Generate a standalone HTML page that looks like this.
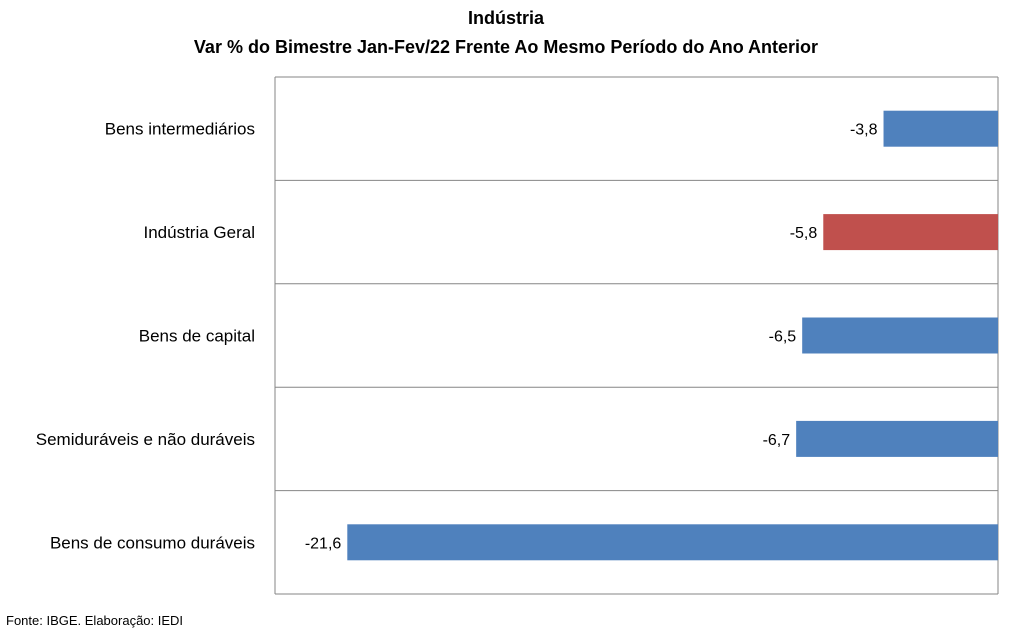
<!DOCTYPE html>
<html><head><meta charset="utf-8"><style>
body{margin:0;background:#fff;font-family:"Liberation Sans",sans-serif;}
svg text{font-family:"Liberation Sans",sans-serif;}
</style></head><body>
<svg id="chart" width="1013" height="632">
<text x="506" y="24" text-anchor="middle" font-size="18" font-weight="bold">Indústria</text>
<text x="506" y="53" text-anchor="middle" font-size="18" font-weight="bold">Var % do Bimestre Jan-Fev/22 Frente Ao Mesmo Período do Ano Anterior</text>
<g id="plot"></g>
<text x="6" y="625" font-size="13">Fonte: IBGE. Elaboração: IEDI</text>
</svg>
<script>
const categories=["Bens intermediários","Indústria Geral","Bens de capital","Semiduráveis e não duráveis","Bens de consumo duráveis"];
const values=[-3.8,-5.8,-6.5,-6.7,-21.6];
const colors=["#4f81bd","#c0504d","#4f81bd","#4f81bd","#4f81bd"];
const valueLabels=["-3,8","-5,8","-6,5","-6,7","-21,6"];
const xMin=-24,xMax=0;
const L=275,R=998,T=77,B=594;
const NS="http://www.w3.org/2000/svg";
const g=document.getElementById("plot");
const x=v=>L+(v-xMin)/(xMax-xMin)*(R-L);
const band=(B-T)/categories.length;
function mk(tag,a){const e=document.createElementNS(NS,tag);for(const k in a)e.setAttribute(k,a[k]);g.appendChild(e);return e;}
for(let i=0;i<=categories.length;i++){
 const l=mk("line",{x1:L,x2:R,y1:T+i*band,y2:T+i*band,stroke:"#868686","stroke-width":1});
 
 
}
const ax=mk("line",{x1:R,x2:R,y1:T,y2:B,stroke:"#868686"});


const ax2=mk("line",{x1:L,x2:L,y1:T,y2:B,stroke:"#868686"});


categories.forEach((c,i)=>{
 const cy=T+band*(i+0.5);
 const x0=x(values[i]),x1=x(0);
 const r=mk("rect",{x:Math.min(x0,x1),y:cy-18,width:Math.abs(x1-x0),height:36,fill:colors[i]});
 
 
 const t=mk("text",{x:Math.min(x0,x1)-6,y:cy+6,"text-anchor":"end","font-size":"16"});
 t.textContent=valueLabels[i];
 
 
 const ct=mk("text",{x:255,y:cy+6,"text-anchor":"end","font-size":"17"});
 ct.textContent=c;
 
 
});
</script>
</body></html>
